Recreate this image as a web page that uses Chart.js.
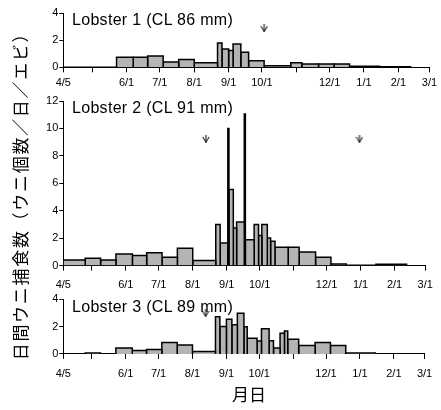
<!DOCTYPE html>
<html>
<head>
<meta charset="utf-8">
<script src="https://cdn.jsdelivr.net/npm/chart.js@4.4.1/dist/chart.umd.min.js"></script>
<style>
  html, body { margin: 0; padding: 0; background: #fff; }
  #wrap { position: relative; width: 441px; height: 410px; overflow: hidden; }
  #wrap canvas { position: absolute; left: 0; }
  .panel-title {
    position: absolute; left: 72px;
    font: 16px 'Liberation Sans', Arial, sans-serif;
    letter-spacing: 0.3px; line-height: 16px; white-space: nowrap; color: #000;
  }
  .axis-title {
    position: absolute; font-family: 'Noto Sans CJK JP', sans-serif;
    font-size: 17px; line-height: 20px; white-space: nowrap; text-align: center; color: #000;
  }
</style>
</head>
<body>
<div id="wrap">
  <canvas id="c1" width="441" height="100" style="top:0px"></canvas>
  <canvas id="c2" width="441" height="210" style="top:92px"></canvas>
  <canvas id="c3" width="441" height="104" style="top:288px"></canvas>
  <div class="panel-title" style="top:11.5px">Lobster 1 (CL 86 mm)</div>
  <div class="panel-title" style="top:99.8px">Lobster 2 (CL 91 mm)</div>
  <div class="panel-title" style="top:298.8px">Lobster 3 (CL 89 mm)</div>
  <div class="axis-title" style="left:-170.5px; top:182px; width:380px; height:20px; transform:rotate(-90deg); letter-spacing:1.7px;">日間ウニ捕食数（ウニ個数／日／エビ）</div>
  <div class="axis-title" style="left:209px; top:383.5px; width:80px;">月日</div>
</div>
<script>
// x axis: season from 4/5 to 3/1 of the following year
const tickDates  = ['4/5', '5/1', '6/1', '7/1', '8/1', '9/1', '10/1', '11/1', '12/1', '1/1', '2/1', '3/1'];
const tickLabels = ['4/5', '',    '6/1', '7/1', '8/1', '9/1', '10/1', '',     '12/1', '1/1', '2/1', '3/1'];

// Lobster 1: interval boundaries and mean urchins eaten per day in each interval
const lobster1Edges = ['4/5', '4/25', '5/9', '5/23', '6/7', '6/20', '7/4', '7/18', '8/1', '8/22', '8/26',
  '9/1', '9/5', '9/12', '9/19', '10/3', '10/27', '11/6', '11/21', '12/5', '12/19', '1/15', '2/12'];
const lobster1Rates = [0, 0, 0, 0.75, 0.75, 0.83, 0.4, 0.58, 0.33, 1.8, 1.35,
  1.25, 1.72, 1.12, 0.48, 0.12, 0.33, 0.25, 0.25, 0.25, 0.08, 0.05];
const lobster1Marks = ['10/3'];
const lobster1MarkLevels = [2.9];

// Lobster 2
const lobster2Edges = ['4/5', '4/25', '5/9', '5/23', '6/7', '6/20', '7/4', '7/18', '8/1', '8/22', '8/26',
  '9/2', '9/3', '9/7', '9/10', '9/17', '9/18', '9/26', '9/30', '10/3', '10/8', '10/11', '10/15',
  '10/27', '11/6', '11/21', '12/5', '12/19', '1/15', '2/12'];
const lobster2Rates = [0.41, 0.54, 0.41, 0.85, 0.73, 0.93, 0.61, 1.27, 0.37, 3.0, 1.64,
  10.0, 5.54, 2.75, 3.18, 11.05, 1.88, 3.0, 2.2, 3.0, 2.02, 1.78,
  1.33, 1.33, 1.0, 0.61, 0.12, 0.02, 0.1];
const lobster2Marks = ['8/13', '12/31'];
const lobster2MarkLevels = [9.24, 9.24];

// Lobster 3
const lobster3Edges = ['4/5', '4/25', '5/9', '5/23', '6/7', '6/20', '7/4', '7/18', '8/1', '8/22', '8/26',
  '9/1', '9/6', '9/11', '9/17', '9/20', '9/29', '10/3', '10/10', '10/14', '10/20', '10/24',
  '10/27', '11/6', '11/21', '12/5', '12/19', '1/15', '2/12'];
const lobster3Rates = [0, 0.07, 0, 0.44, 0.25, 0.32, 0.84, 0.65, 0.17, 2.72, 2.0,
  2.53, 2.13, 2.98, 1.98, 1.15, 0.94, 1.85, 0.97, 0.44, 1.52,
  1.68, 1.08, 0.61, 0.84, 0.62, 0.07, 0.02];
const lobster3Marks = ['8/13'];
const lobster3MarkLevels = [3.0];

const BAR_FILL = '#b4b4b4';
Chart.defaults.font.family = "'Liberation Sans', Arial, sans-serif";
Chart.defaults.color = '#000';

// days elapsed since 4/5 (April-December in the first year, January-March in the next)
function dayOf(md) {
  const [m, d] = md.split('/').map(Number);
  const y = m >= 4 ? 2001 : 2002;
  return Math.round((Date.UTC(y, m - 1, d) - Date.UTC(2001, 3, 5)) / 86400000);
}

// small downward arrow used as a point marker
function arrowMark() {
  const c = document.createElement('canvas');
  c.width = 8; c.height = 8;
  const g = c.getContext('2d');
  g.strokeStyle = '#000';
  g.lineWidth = 1;
  g.beginPath();
  g.moveTo(4, 0); g.lineTo(4, 7.5);
  g.moveTo(0.8, 2); g.lineTo(4, 7.5); g.lineTo(7.2, 2);
  g.stroke();
  return c;
}

function buildPanel(id, edges, rates, marks, levels, yMax, pad, tickPad) {
  // each interval is a closed outline: up at its start, across at its rate, down at its end
  const datasets = rates.map((v, i) => {
    const a = dayOf(edges[i]), b = dayOf(edges[i + 1]);
    return {
      data: [{ x: a, y: 0 }, { x: a, y: v }, { x: b, y: v }, { x: b, y: 0 }],
      fill: 'origin',
      backgroundColor: BAR_FILL,
      borderColor: '#000',
      borderWidth: 1.5,
      borderJoinStyle: 'miter',
      pointRadius: 0,
      tension: 0
    };
  });
  datasets.push({
    data: marks.map((m, i) => ({ x: dayOf(m), y: levels[i] })),
    showLine: false,
    pointStyle: arrowMark(),
    pointRadius: 4
  });

  new Chart(document.getElementById(id), {
    type: 'line',
    data: { datasets },
    options: {
      responsive: false,
      animation: false,
      devicePixelRatio: 1,
      layout: { padding: { left: 0, right: 9.3, top: pad.top, bottom: pad.bottom } },
      plugins: { legend: { display: false }, tooltip: { enabled: false } },
      scales: {
        x: {
          type: 'linear', min: 0, max: dayOf('3/1'),
          afterBuildTicks: s => { s.ticks = tickDates.map(t => ({ value: dayOf(t) })); },
          ticks: {
            autoSkip: false, maxRotation: 0, padding: tickPad, color: '#000',
            font: { size: 11 },
            callback: (v, i) => tickLabels[i]
          },
          grid: { drawOnChartArea: false, tickLength: 5, color: '#000', lineWidth: 1 },
          border: { color: '#000', width: 1 }
        },
        y: {
          min: 0, max: yMax,
          ticks: { stepSize: 2, padding: 1, color: '#000', font: { size: 11 } },
          grid: { drawOnChartArea: false, tickLength: 4, color: '#000', lineWidth: 1 },
          border: { color: '#000', width: 1 },
          afterFit: s => { s.width = 63.3; }
        }
      }
    }
  });
}

buildPanel('c1', lobster1Edges, lobster1Rates, lobster1Marks, lobster1MarkLevels, 4, { top: 13.3, bottom: 6.7 }, 3.9);
buildPanel('c2', lobster2Edges, lobster2Rates, lobster2Marks, lobster2MarkLevels, 12, { top: 9, bottom: 2 }, 8.1);
buildPanel('c3', lobster3Edges, lobster3Rates, lobster3Marks, lobster3MarkLevels, 4, { top: 11.3, bottom: 2.3 }, 8.8);
</script>
</body>
</html>
